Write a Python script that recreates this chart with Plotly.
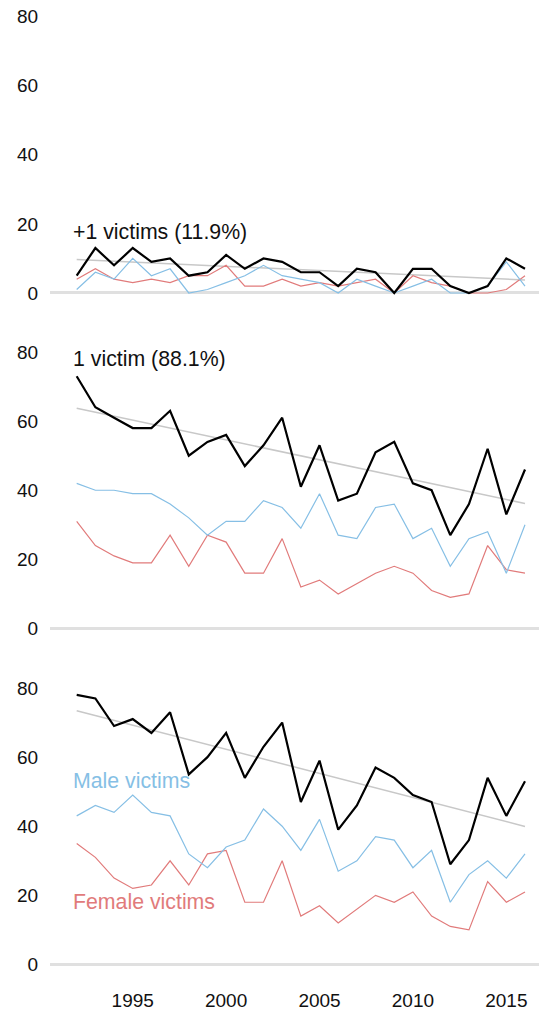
import numpy as np
import plotly.graph_objects as go

years = list(range(1992, 2017))

# +1 victims
multi_total = [5, 13, 8, 13, 9, 10, 5, 6, 11, 7, 10, 9, 6, 6, 2, 7, 6, 0, 7, 7, 2, 0, 2, 10, 7]
multi_male = [1, 6, 4, 10, 5, 7, 0, 1, 3, 5, 8, 5, 4, 3, 0, 4, 2, 0, 2, 4, 0, 0, 2, 9, 2]
multi_female = [4, 7, 4, 3, 4, 3, 5, 5, 8, 2, 2, 4, 2, 3, 2, 3, 4, 0, 5, 3, 2, 0, 0, 1, 5]

# 1 victim
single_total = [73, 64, 61, 58, 58, 63, 50, 54, 56, 47, 53, 61, 41, 53, 37, 39, 51, 54, 42, 40, 27, 36, 52, 33, 46]
single_male = [42, 40, 40, 39, 39, 36, 32, 27, 31, 31, 37, 35, 29, 39, 27, 26, 35, 36, 26, 29, 18, 26, 28, 16, 30]
single_female = [31, 24, 21, 19, 19, 27, 18, 27, 25, 16, 16, 26, 12, 14, 10, 13, 16, 18, 16, 11, 9, 10, 24, 17, 16]

# Total
all_total = [78, 77, 69, 71, 67, 73, 55, 60, 67, 54, 63, 70, 47, 59, 39, 46, 57, 54, 49, 47, 29, 36, 54, 43, 53]
all_male = [43, 46, 44, 49, 44, 43, 32, 28, 34, 36, 45, 40, 33, 42, 27, 30, 37, 36, 28, 33, 18, 26, 30, 25, 32]
all_female = [35, 31, 25, 22, 23, 30, 23, 32, 33, 18, 18, 30, 14, 17, 12, 16, 20, 18, 21, 14, 11, 10, 24, 18, 21]

panel_titles = ["+1 victims (11.9%)", "1 victim (88.1%)", "Total (N=1417)"]
y_ticks = [0, 20, 40, 60, 80]
x_ticks = [1995, 2000, 2005, 2010, 2015]

BLACK = "#000000"
BLUE = "#86bfe5"
RED = "#e17b7b"
TREND = "#c8c8c8"
BASE = "#e0e0e0"
FONT = "Liberation Sans, Arial, Helvetica, sans-serif"

panels = [
    (multi_total, multi_male, multi_female),
    (single_total, single_male, single_female),
    (all_total, all_male, all_female),
]

# page body has an 8px margin, so the figure is sized to fill the rest of the window
W, H = 539, 1002
px_extents = [(1.6, 298.8), (337.1, 634.3), (673.1, 970.3)]
domains = [[1 - b / H, 1 - t / H] for t, b in px_extents]

fig = go.Figure()
for i, (tot, male, fem) in enumerate(panels):
    xa = "x" if i == 0 else f"x{i+1}"
    ya = "y" if i == 0 else f"y{i+1}"
    coef = np.polyfit(years, tot, 1)
    trend = np.polyval(coef, [years[0], years[-1]])
    fig.add_trace(go.Scatter(x=[years[0], years[-1]], y=trend, mode="lines",
                             line=dict(color=TREND, width=1.5), xaxis=xa, yaxis=ya,
                             showlegend=False, hoverinfo="skip"))
    fig.add_trace(go.Scatter(x=years, y=fem, mode="lines", line=dict(color=RED, width=1.2),
                             xaxis=xa, yaxis=ya, showlegend=False))
    fig.add_trace(go.Scatter(x=years, y=male, mode="lines", line=dict(color=BLUE, width=1.2),
                             xaxis=xa, yaxis=ya, showlegend=False))
    fig.add_trace(go.Scatter(x=years, y=tot, mode="lines", line=dict(color=BLACK, width=2.2),
                             xaxis=xa, yaxis=ya, showlegend=False))

layout = dict(
    width=W, height=H,
    margin=dict(l=42, r=0, t=0, b=0, autoexpand=False),
    paper_bgcolor="white", plot_bgcolor="white",
    font=dict(family=FONT, size=19, color="#111111"),
)
title_y = [17.6, 78.0, 83.2]
for i in range(3):
    sx = "" if i == 0 else str(i + 1)
    layout[f"xaxis{sx}"] = dict(
        domain=[0, 1], range=[1990.571, 2017.178], anchor=f"y{sx}",
        showgrid=False, zeroline=False, showline=False,
        tickvals=x_ticks, showticklabels=(i == 2),
        ticks="outside" if i == 2 else "", ticklen=5, tickcolor="rgba(0,0,0,0)",
        ticklabeloverflow="allow",
        fixedrange=True, automargin=False,
    )
    layout[f"yaxis{sx}"] = dict(
        domain=domains[i], range=[-4, 82], anchor=f"x{sx}",
        tickvals=y_ticks, showgrid=False,
        zeroline=True, zerolinecolor=BASE, zerolinewidth=2.5,
        showline=False, ticks="outside", ticklen=7, tickcolor="rgba(0,0,0,0)",
        ticklabeloverflow="allow",
        fixedrange=True, automargin=False,
    )
fig.update_layout(**layout)

for i, t in enumerate(panel_titles):
    sx = "" if i == 0 else str(i + 1)
    fig.add_annotation(x=1991.70, y=title_y[i], xref=f"x{sx}", yref=f"y{sx}",
                       text=t, showarrow=False, xanchor="left", yanchor="middle",
                       font=dict(family=FONT, size=21.3, color="#111111"))

fig.add_annotation(x=1991.70, y=53.2, xref="x3", yref="y3", text="Male victims",
                   showarrow=False, xanchor="left", yanchor="middle",
                   font=dict(family=FONT, size=21.3, color=BLUE))
fig.add_annotation(x=1991.70, y=18.1, xref="x3", yref="y3", text="Female victims",
                   showarrow=False, xanchor="left", yanchor="middle",
                   font=dict(family=FONT, size=21.3, color=RED))

fig.write_html("out.html")
